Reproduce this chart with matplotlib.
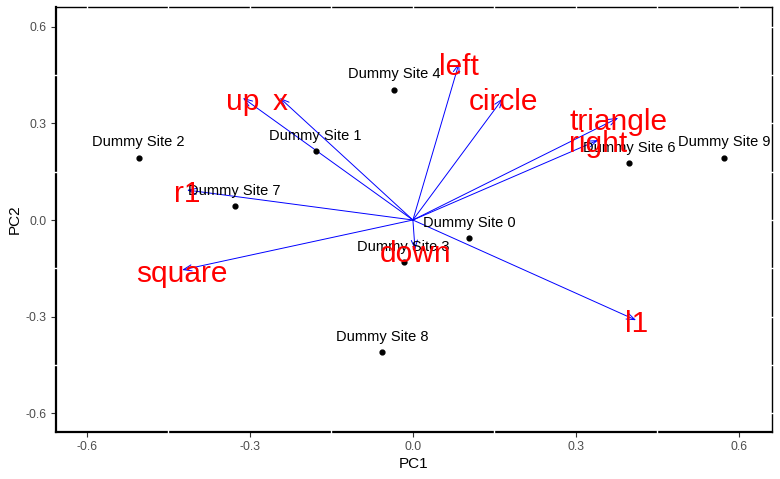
import numpy as np
import matplotlib.pyplot as plt
import matplotlib.transforms as mtransforms

plt.rcParams['font.family'] = ['Liberation Sans', 'DejaVu Sans']

# site scores (PC1, PC2)
site_names = ["Dummy Site 0", "Dummy Site 1", "Dummy Site 2", "Dummy Site 3",
              "Dummy Site 4", "Dummy Site 6", "Dummy Site 7", "Dummy Site 8",
              "Dummy Site 9"]
site_pc1 = [0.103, -0.179, -0.505, -0.017, -0.035, 0.398, -0.328, -0.057, 0.573]
site_pc2 = [-0.056, 0.214, 0.193, -0.130, 0.404, 0.177, 0.043, -0.410, 0.193]

# variable loadings (arrow tips)
var_names = ["left", "circle", "triangle", "right", "l1", "down",
             "square", "r1", "up", "x"]
var_pc1 = [0.085, 0.166, 0.378, 0.341, 0.411, 0.004, -0.425, -0.416, -0.313, -0.245]
var_pc2 = [0.487, 0.378, 0.317, 0.248, -0.311, -0.093, -0.155, 0.093, 0.379, 0.379]

ticks = [-0.6, -0.3, 0.0, 0.3, 0.6]
minor = [-0.45, -0.15, 0.15, 0.45]

fig = plt.figure(figsize=(7.8, 4.79), dpi=100)
ax = fig.add_axes([0.0718, 0.098, 0.9179, 0.8874])

# arrows
for name, x, y in zip(var_names, var_pc1, var_pc2):
    ax.annotate("", xy=(x, y), xytext=(0, 0),
                arrowprops=dict(arrowstyle="->,head_length=0.6,head_width=0.22",
                                color="blue", lw=0.7, shrinkA=0, shrinkB=0))

# points and labels
ax.scatter(site_pc1, site_pc2, s=12, color="black", zorder=3)
for name, x, y in zip(site_names, site_pc1, site_pc2):
    ax.annotate(name, (x, y), xytext=(0, 6), textcoords="offset points",
                ha="center", va="bottom", fontsize=10.5, color="black", zorder=4)

for name, x, y in zip(var_names, var_pc1, var_pc2):
    ax.annotate(name, (x, y), xytext=(0, -3), textcoords="offset points",
                ha="center", va="center", fontsize=21.5, color="red", zorder=5)

ax.set_xlim(-0.657, 0.661)
ax.set_ylim(-0.658, 0.661)
ax.set_xticks(ticks)
ax.set_yticks(ticks)
ax.set_xticklabels([f"{t:.1f}" for t in ticks])
ax.set_yticklabels([f"{t:.1f}" for t in ticks])
ax.tick_params(direction="out", length=3.5, width=0.8, color="#333333",
               labelcolor="#4D4D4D", labelsize=8.8, pad=3)
ax.set_xlabel("PC1", fontsize=11, labelpad=3)
ax.set_ylabel("PC2", fontsize=11, labelpad=3)

for side in ["top", "right"]:
    ax.spines[side].set_linewidth(1.0)
for side in ["left", "bottom"]:
    ax.spines[side].set_linewidth(1.6)

# little white notches where the grid meets the border
tx = mtransforms.blended_transform_factory(ax.transData, ax.transAxes)
ty = mtransforms.blended_transform_factory(ax.transAxes, ax.transData)
for v in minor:
    ax.plot([v, v], [-0.006, 0.006], transform=tx, color="white", lw=1, clip_on=False, zorder=6)
    ax.plot([-0.004, 0.004], [v, v], transform=ty, color="white", lw=1, clip_on=False, zorder=6)
for v in ticks + minor:
    ax.plot([v, v], [0.994, 1.006], transform=tx, color="white", lw=1, clip_on=False, zorder=6)
    ax.plot([0.996, 1.004], [v, v], transform=ty, color="white", lw=1, clip_on=False, zorder=6)

fig.savefig("out.png", dpi=100)
